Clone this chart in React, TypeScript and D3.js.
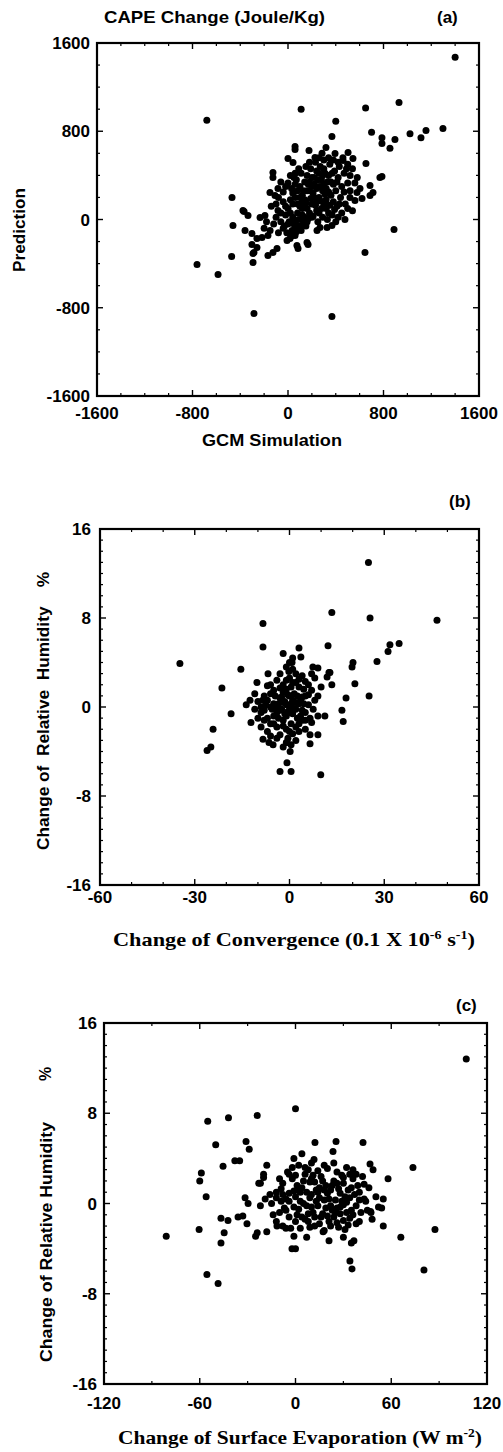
import React from 'react';
import * as d3 from 'd3';

// ---------- DATA ----------
// Panel (a): CAPE change, GCM simulation (x) vs prediction (y)
const capePoints: [number, number][] = [
  [1400, 1470], [-680, 900], [110, 1000], [650, 1010], [930, 1060], [400, 890], [700, 790],
  [787, 742], [787, 690], [896, 725], [854, 645], [1022, 778], [1114, 742], [1156, 807],
  [1298, 825], [368, 752], [59, 662], [59, 634], [176, 626], [318, 653], [285, 600], [503, 608],
  [544, 553], [653, 507], [787, 390], [0, 553], [42, 516], [-126, 426], [-126, 381], [394, 598],
  [226, 562], [461, 535], [770, 381], [687, 308], [603, 281], [578, 245], [712, 245], [687, 218],
  [620, 190], [561, 172], [519, 199], [-469, 199], [-377, 82], [-335, 36], [-234, 18], [-193, 36],
  [-151, 245], [-109, 218], [-84, 281], [-84, 82], [-461, -54], [-360, -100], [-302, -127],
  [-260, -172], [-218, -163], [-168, -145], [-302, -227], [-260, -254], [-92, -263], [-168, -326],
  [-126, -299], [-8, -190], [17, -172], [59, -145], [75, -236], [84, -263], [159, -209],
  [168, -227], [34, -100], [59, -72], [243, -100], [268, -72], [327, -72], [368, -54], [477, 0],
  [-472, -335], [-762, -408], [-293, -308], [-293, -390], [645, -299], [-586, -498], [-285, -852],
  [368, -879], [888, -91], [-368, 73], [-285, -299],
  [80, 60], [100, 120], [120, 40], [140, 180], [160, 100], [180, 260], [200, 140], [220, 320],
  [240, 80], [260, 200], [280, 360], [300, 140], [320, 280], [340, 400], [360, 220], [380, 320],
  [100, 300], [120, 220], [140, 340], [160, 400], [180, 60], [200, 380], [220, 200], [240, 440],
  [260, 300], [280, 100], [300, 460], [320, 180], [340, 60], [360, 340], [380, 160], [400, 260],
  [420, 380], [440, 200], [60, 200], [40, 140], [20, 60], [0, 100], [-20, 40], [-40, 160],
  [-60, -20], [-30, -60], [10, -20], [50, -40], [90, 0], [130, -30], [170, 10], [210, 30],
  [250, -20], [290, 20], [330, 0], [370, 40], [410, 120], [450, 300], [470, 420], [430, 480],
  [390, 440], [350, 500], [310, 420], [270, 480], [230, 520], [190, 460], [150, 480], [110, 420],
  [70, 360], [30, 280], [50, 380], [90, 460], [130, 260], [170, 320], [210, 240], [250, 360],
  [290, 260], [330, 340], [370, 420], [410, 340], [150, 150], [190, 190], [230, 130], [270, 170],
  [310, 230], [350, 130], [390, 90], [430, 140], [470, 250], [500, 330], [520, 400], [490, 460],
  [240, 280], [260, 420], [280, 300], [300, 320], [200, 300], [180, 340], [160, 260], [140, 120],
  [120, 160], [100, 200], [80, 260], [60, 320], [220, 380], [240, 160], [320, 100], [290, 400],
  [340, 250], [260, 60], [200, 20], [150, -60], [110, -100], [-10, -120], [30, -150], [70, -110],
  [-200, -80], [-180, -20], [-150, -100], [-120, -40], [-100, 20], [-80, -120], [-60, 60],
  [-40, -80], [-20, 120], [0, -40], [20, 180], [40, 20], [60, -20], [80, 140], [100, -60],
  [120, 100], [140, 20], [160, -20], [40, 240], [60, 420], [20, 400], [-20, 300], [-40, 250],
  [0, 330], [500, 100], [540, 80], [480, 140], [450, 60], [420, 20], [400, -20], [520, 260],
  [560, 330], [580, 380], [540, 460], [500, 500], [460, 560], [420, 520], [380, 540], [340, 560],
  [300, 540], [260, 560], [180, 520], [-60, 340], [-80, 200], [-100, 140], [-140, 120],
];

// Panel (b): change of convergence (x) vs change of relative humidity (y)
const convPoints: [number, number][] = [
  [25, 13], [13.4, 8.5], [25.5, 8], [46.7, 7.8], [-8.4, 7.5], [-8.4, 5.4], [12.2, 5.5], [-2, 4.8],
  [3, 5.3], [3.6, 4.5], [0.8, 4], [-34.7, 3.9], [-15.4, 3.4], [20.1, 4], [19.8, 3.6], [-6.8, 3],
  [-10.3, 2.2], [7.4, 3.6], [9, 3.5], [12.5, 3.1], [11.9, 2.7], [13.4, 2], [20.7, 2.1],
  [-21.4, 1.7], [17.9, 0.8], [25.2, 1], [16.6, -0.3], [17, -1.3], [-18.5, -0.6], [11.2, -0.8],
  [-24.2, -2], [-13.7, 0.2], [-12.5, 0.6], [-26.1, -3.9], [-24.9, -3.6], [-12.2, -1.4],
  [-8.4, -2.9], [-5.2, -3.4], [-0.8, -3.2], [0.2, -4], [-0.8, -5], [-3, -5.8], [0.5, -5.8],
  [9.9, -6.1], [6.5, -2.5], [6.5, -3.3], [7, -1.4], [27.7, 4.1], [31.2, 5], [31.8, 5.6],
  [34.7, 5.7], [12.8, 3.1],
  [-10, 0.5], [-9, -0.5], [-8, 1], [-7, -1], [-6, 0], [-5, 1.5], [-4, -0.5], [-3, 0.8], [-2, -1.2],
  [-1, 0.2], [0, 1], [1, -0.6], [2, 0.4], [3, 1.8], [4, -0.3], [5, 1], [6, 0.2], [7, 1.5], [8, 0.6],
  [-9, -1.8], [-7, -2.2], [-5, -1.5], [-3, -2.5], [-1, -2], [1, -2.4], [3, -1.5], [5, -2], [-6, 2],
  [-4, 2.4], [-2, 2], [0, 2.6], [2, 2.2], [4, 2.8], [6, 2], [-1.5, 0.5], [-0.5, -0.4], [0.5, 0.3],
  [1.5, 1.2], [-2.5, -0.2], [-3.5, 0.3], [2.5, -1], [3.5, 0.6], [-0.2, 3.2], [1, 3.4], [-4, -2.8],
  [-6, -2.6], [-8, -1.2], [-11, -0.2], [-11, 1.2], [9, -0.8], [8, 2.6], [10, 1.8], [-1, -3.2],
  [0.5, -1.5], [-2, 1.3], [1.5, -0.2], [-5, -0.8], [-4.5, 1], [4.5, 1.6], [3, -2.2], [-7.5, 0.2],
  [6.5, -1], [0, -0.5], [-1, 1.6],
  [-9, 0], [-8, -0.3], [-7, 0.6], [-6, 1.2], [-5, 0.3], [-4, 0], [-3, -0.3], [-2, 0.4], [-1, -0.8],
  [0, 0], [1, 0.6], [2, -0.2], [3, 0.3], [4, 0.9], [5, -0.5], [6, 1.1], [-6, -1.5], [-4, -1.8],
  [-2, -1.7], [0, -2.2], [2, -1.8], [4, -1.2], [-3, 1.7], [-1, 2.4], [1, 2.2], [3, 2.5], [5, 2.3],
  [-7, 1.9], [0.5, 1.8], [1.5, 0.4], [-0.5, 1.1], [-1.5, -0.6], [-2.5, 0.9], [2.5, 1], [-3.5, -1],
  [3.5, -0.8], [-5.5, -0.2], [4.5, 0.3], [-8.5, 0.6], [7.5, -0.2], [9, 1], [-10, -1], [0, 4],
  [1, 4.4], [-1, 3.6], [2, 3], [-3, 3], [7, 3], [5, -1.2], [-0.5, -2.8], [0.5, -3.4], [-2, -3.6],
  [2, -3], [9, -2.5], [-6.5, -3.2],
];

// Panel (c): change of surface evaporation (x) vs change of relative humidity (y)
const evapPoints: [number, number][] = [
  [107, 12.8], [0, 8.4], [-55, 7.3], [-42, 7.6], [-24, 7.8], [-50, 5.2], [-31, 5.5], [-29, 4.8],
  [12.2, 5.4], [25.4, 5.5], [42.3, 5.4], [23.5, 4.6], [4, 4.4], [-1, 4], [11.6, 3.9], [-38, 3.8],
  [-35, 3.8], [-45.4, 3.3], [-18, 3.4], [46.7, 3.5], [48.6, 3], [73.6, 3.2], [58, 2.2], [-59, 2.7],
  [-60, 2], [-56, 0.6], [-20, 2.6], [-22, 1.8], [-31.6, 0.5], [-29.7, 0], [-46.7, -1.3],
  [-42.3, -1.5], [-36, -1.2], [-33, -1.1], [-30.4, -1.8], [-60.4, -2.3], [-44.7, -2.6],
  [-46.7, -3.5], [-81, -2.9], [87.4, -2.3], [66, -3], [55, -2], [47.3, -0.8], [54, -0.4],
  [55, 0.4], [50.4, 0.6], [-24, -2.6], [-25, -2.9], [-18, -2.5], [-11.6, -2], [-3, -2.2],
  [-1, -2.9], [-2.2, -4], [0, -4], [7, -3], [17.3, -2.5], [21, -3.3], [30, -3], [35, -3.5],
  [36.6, -3.3], [34.1, -5.1], [35.4, -5.8], [80.5, -5.9], [-55.5, -6.3], [-48.5, -7.1],
  [-23, 1.8], [-20, 2.3], [-22, -0.2], [-19, 0.4], [-16, 0.8], [-5, 2.8], [52, -0.3], [47, -0.7],
  [-15, 0], [-12, 1], [-10, -0.8], [-8, 1.8], [-6, 0.4], [-4, -1.2], [-2, 2.2], [0, 0.6], [2, -0.5],
  [4, 1.4], [6, 2.6], [8, -0.9], [10, 0.8], [12, 1.9], [14, -0.2], [16, 2.4], [18, 0.3], [20, -1.1],
  [22, 1.2], [24, 2], [26, -0.4], [28, 0.9], [30, 1.8], [32, -0.8], [34, 0.5], [36, 2.2], [38, -0.2],
  [40, 1], [42, 2.4], [44, 0.2], [-12, -1.6], [-8, -2], [-4, 0.9], [0, -1.6], [3, -2.2], [6, -1.4],
  [9, -2.1], [12, -1.2], [15, -1.8], [18, -2.4], [21, -1.6], [24, -1.2], [27, -2.1], [30, -1.5],
  [33, -1.9], [36, -1], [40, -1.6], [-2, 3.2], [2, 3.4], [8, 3], [14, 2.9], [20, 3.1], [26, 2.8],
  [32, 3.2], [38, 2.6], [5, 0], [10, -0.3], [15, 0.5], [20, 0.9], [25, 0.3], [30, -0.1], [35, 1.4],
  [1, 1.6], [7, 1], [13, 1.2], [19, 1.6], [23, -0.6], [28, -0.9], [11, 2.5], [17, -0.9], [-6, -0.6],
  [-1, -0.3], [45, -0.6], [43, 1.7], [-9, 0.2], [29, 2.5], [3, 0.2], [9, 1.9],
  [-12, 0.5], [-9, 1.3], [-7, -0.4], [-4, 0.2], [-1, 1.1], [1, -1], [3, 1], [5, 2], [7, -0.2],
  [9, 0.5], [11, -0.8], [13, 0.2], [15, 1.4], [17, 2], [19, -0.4], [21, 0.4], [23, 1.6], [25, -0.8],
  [27, 1.3], [29, 0.2], [31, 0.6], [33, 1.2], [35, -0.6], [37, 0.8], [39, 1.6], [41, -0.8],
  [43, 0.4], [4, -1.2], [8, -1.6], [12, -2], [16, -1.2], [22, -2], [26, -1.7], [31, -2.3],
  [34, -1.3], [38, -1.8], [6, 3.2], [10, 3.6], [18, 3.4], [24, 3.6], [30, 2.3], [36, 3], [-4, 2.6],
  [-10, 2.2], [-14, -1], [0, 2.5], [2, 1.2], [14, 1], [18, 1.2], [22, -0.2], [28, -0.3], [32, 0.1],
  [40, 0.3], [46, 1.4], [48, -1.4], [-6, -2.2], [-8, 0.8], [10, 2.2], [26, 1.8], [34, 2.6],
];

const capeTicks = [-1600, -800, 0, 800, 1600];
const rhTicks = [-16, -8, 0, 8, 16];
const convTicks = [-60, -30, 0, 30, 60];
const evapTicks = [-120, -60, 0, 60, 120];

const SANS = '"Liberation Sans", Arial, Helvetica, sans-serif';
const SERIF = '"Liberation Serif", "Times New Roman", serif';

type Box = { l: number; r: number; t: number; b: number };

function Panel(props: {
  box: Box;
  xDomain: [number, number];
  yDomain: [number, number];
  xTicks: number[];
  yTicks: number[];
  xMinor: number;
  yMinor: number;
  points: [number, number][];
  yLabelRight: number;
  xLabelBase: number;
}) {
  const { box, xDomain, yDomain, xTicks, yTicks, xMinor, yMinor, points } = props;
  const x = d3.scaleLinear().domain(xDomain).range([box.l, box.r]);
  const y = d3.scaleLinear().domain(yDomain).range([box.b, box.t]);
  const xm = d3.range(xDomain[0], xDomain[1] + 1e-9, xMinor).filter((v) => !xTicks.includes(v));
  const ym = d3.range(yDomain[0], yDomain[1] + 1e-9, yMinor).filter((v) => !yTicks.includes(v));
  const maj = 6;
  const min = 3;
  return (
    <g>
      {xTicks.map((v) => (
        <g key={'xt' + v}>
          <line x1={x(v)} x2={x(v)} y1={box.b} y2={box.b - maj} stroke="#000" strokeWidth={1.4} />
          <line x1={x(v)} x2={x(v)} y1={box.t} y2={box.t + maj} stroke="#000" strokeWidth={1.4} />
          <text x={x(v)} y={props.xLabelBase} textAnchor="middle" fontFamily={SANS} fontWeight="bold" fontSize={17}>
            {v}
          </text>
        </g>
      ))}
      {xm.map((v) => (
        <g key={'xm' + v}>
          <line x1={x(v)} x2={x(v)} y1={box.b} y2={box.b - min} stroke="#000" strokeWidth={1.2} />
          <line x1={x(v)} x2={x(v)} y1={box.t} y2={box.t + min} stroke="#000" strokeWidth={1.2} />
        </g>
      ))}
      {yTicks.map((v) => (
        <g key={'yt' + v}>
          <line x1={box.l} x2={box.l + maj} y1={y(v)} y2={y(v)} stroke="#000" strokeWidth={1.4} />
          <line x1={box.r} x2={box.r - maj} y1={y(v)} y2={y(v)} stroke="#000" strokeWidth={1.4} />
          <text x={props.yLabelRight} y={y(v)} dy="0.36em" textAnchor="end" fontFamily={SANS} fontWeight="bold" fontSize={17}>
            {v}
          </text>
        </g>
      ))}
      {ym.map((v) => (
        <g key={'ym' + v}>
          <line x1={box.l} x2={box.l + min} y1={y(v)} y2={y(v)} stroke="#000" strokeWidth={1.2} />
          <line x1={box.r} x2={box.r - min} y1={y(v)} y2={y(v)} stroke="#000" strokeWidth={1.2} />
        </g>
      ))}
      <rect x={box.l} y={box.t} width={box.r - box.l} height={box.b - box.t} fill="none" stroke="#000" strokeWidth={2.2} />
      {points.map((p, i) => (
        <circle key={i} cx={x(p[0])} cy={y(p[1])} r={3.5} fill="#000" />
      ))}
    </g>
  );
}

function RotText(props: { x: number; y: number; len?: number; size: number; children: React.ReactNode }) {
  return (
    <text
      transform={`translate(${props.x},${props.y}) rotate(-90)`}
      textAnchor="middle"
      fontFamily={SANS}
      fontWeight="bold"
      fontSize={props.size}
      textLength={props.len}
      lengthAdjust="spacingAndGlyphs"
      style={{ whiteSpace: 'pre' }}
    >
      {props.children}
    </text>
  );
}

export default function App() {
  return (
    <svg width={503} height={1452} style={{ position: 'absolute', left: 0, top: 0, background: '#fff' }}>
      <rect x={0} y={0} width={503} height={1452} fill="#fff" />
      {/* Panel (a) */}
      <text x={104} y={23} fontFamily={SANS} fontWeight="bold" fontSize={17} textLength={221} lengthAdjust="spacingAndGlyphs">
        CAPE Change (Joule/Kg)
      </text>
      <text x={437} y={23} fontFamily={SANS} fontWeight="bold" fontSize={17}>
        (a)
      </text>
      <Panel
        box={{ l: 97, r: 479, t: 43, b: 396 }}
        xDomain={[-1600, 1600]}
        yDomain={[-1600, 1600]}
        xTicks={capeTicks}
        yTicks={capeTicks}
        xMinor={200}
        yMinor={200}
        points={capePoints}
        yLabelRight={90}
        xLabelBase={419}
      />
      <text x={272} y={446} textAnchor="middle" fontFamily={SANS} fontWeight="bold" fontSize={17} textLength={140} lengthAdjust="spacingAndGlyphs">
        GCM Simulation
      </text>
      <RotText x={25} y={230} size={16} len={84}>Prediction</RotText>

      {/* Panel (b) */}
      <text x={449} y={507} fontFamily={SANS} fontWeight="bold" fontSize={17}>
        (b)
      </text>
      <Panel
        box={{ l: 100, r: 479, t: 529, b: 885 }}
        xDomain={[-60, 60]}
        yDomain={[-16, 16]}
        xTicks={convTicks}
        yTicks={rhTicks}
        xMinor={10}
        yMinor={1}
        points={convPoints}
        yLabelRight={91}
        xLabelBase={903}
      />
      <text x={113} y={946} fontFamily={SERIF} fontWeight="bold" fontSize={19} textLength={362} lengthAdjust="spacingAndGlyphs">
        Change of Convergence (0.1 X 10
        <tspan dy={-7} fontSize={12}>-6</tspan>
        <tspan dy={7}> s</tspan>
        <tspan dy={-7} fontSize={12}>-1</tspan>
        <tspan dy={7}>)</tspan>
      </text>
      <RotText x={49} y={711} size={16} len={278}>{'Change of  Relative  Humidity    %'}</RotText>

      {/* Panel (c) */}
      <text x={456} y={1011} fontFamily={SANS} fontWeight="bold" fontSize={17}>
        (c)
      </text>
      <Panel
        box={{ l: 104, r: 487, t: 1023, b: 1384 }}
        xDomain={[-120, 120]}
        yDomain={[-16, 16]}
        xTicks={evapTicks}
        yTicks={rhTicks}
        xMinor={30}
        yMinor={1}
        points={evapPoints}
        yLabelRight={97}
        xLabelBase={1409}
      />
      <text x={118} y={1444} fontFamily={SERIF} fontWeight="bold" fontSize={19} textLength={364} lengthAdjust="spacingAndGlyphs">
        Change of Surface Evaporation (W m
        <tspan dy={-7} fontSize={12}>-2</tspan>
        <tspan dy={7}>)</tspan>
      </text>
      <RotText x={51} y={1074} size={16}>%</RotText>
      <RotText x={52} y={1242} size={16} len={240}>Change of Relative Humidity</RotText>
    </svg>
  );
}
